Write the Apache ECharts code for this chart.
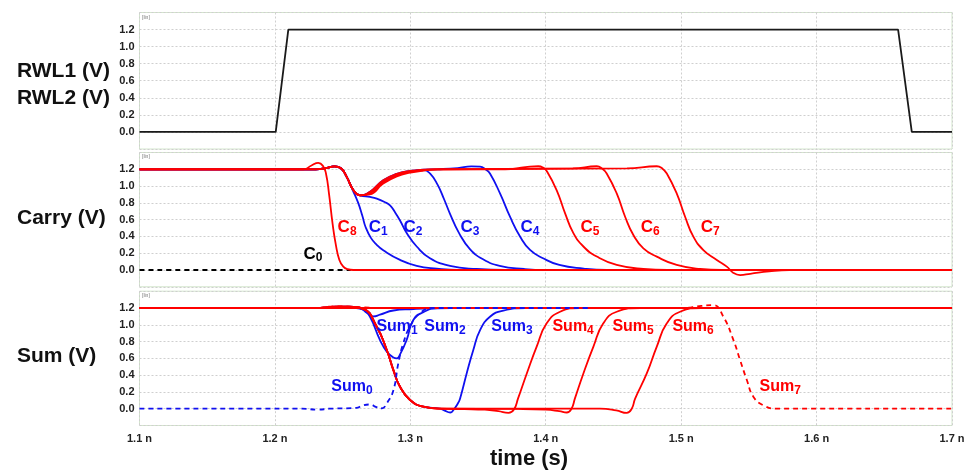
<!DOCTYPE html>
<html><head><meta charset="utf-8">
<script src="https://cdn.jsdelivr.net/npm/echarts@6/dist/echarts.min.js"></script>
<style>html,body{margin:0;padding:0;background:#fff}#c{width:972px;height:473px}</style>
</head><body><div id="c"></div>
<script>
// ---------- DATA (time in ns, value in V) ----------
const timeTicks = [1.1, 1.2, 1.3, 1.4, 1.5, 1.6, 1.7];
const voltTicks = [0.0, 0.2, 0.4, 0.6, 0.8, 1.0, 1.2];

const rwl = [[1.10,0],[1.2006,0],[1.2099,1.2],[1.6602,1.2],[1.6703,0],[1.70,0]];

// Carry panel
const carryHead = [[1.10,1.20],[1.23,1.20],[1.238,1.215],[1.244,1.235],[1.2485,1.215],[1.253,1.11]];
const carryDip = [[1.258,0.95],[1.263,0.89]];
const recoveryA = [[1.27,0.915],[1.28,1.05],[1.29,1.13],[1.30,1.17],[1.31,1.19]];
const recoveryB = [[1.27,0.93],[1.28,1.07],[1.29,1.145],[1.30,1.18],[1.31,1.195]];
const recoveryC = [[1.27,0.90],[1.28,1.03],[1.29,1.115],[1.30,1.16],[1.31,1.185]];
const c0 = [[1.10,0],[1.256,0]];
const c1Tail = [[1.2575,0.95],[1.2615,0.80],[1.2645,0.65],[1.267,0.51],[1.271,0.38],[1.2752,0.30],[1.28,0.235],[1.2924,0.12],[1.3047,0.05],[1.3195,0.016],[1.335,0],[1.70,0]];
const c2Tail = [[1.2702,0.87],[1.2752,0.85],[1.281,0.81],[1.285,0.77],[1.289,0.68],[1.2924,0.59],[1.2973,0.44],[1.3047,0.28],[1.3145,0.14],[1.3293,0.05],[1.349,0.012],[1.37,0],[1.70,0]];
const c3Tail = [[1.3145,1.15],[1.32,1.02],[1.325,0.84],[1.3293,0.67],[1.336,0.44],[1.344,0.25],[1.354,0.125],[1.366,0.05],[1.384,0.012],[1.40,0],[1.70,0]];
const c4Tail = [[1.32,1.20],[1.335,1.215],[1.345,1.235],[1.3515,1.232],[1.3555,1.20],[1.3588,1.15],[1.3663,0.91],[1.3736,0.635],[1.381,0.40],[1.3884,0.24],[1.398,0.14],[1.41,0.06],[1.428,0.016],[1.445,0],[1.70,0]];
const c5Tail = [[1.32,1.20],[1.37,1.20],[1.385,1.225],[1.3945,1.236],[1.398,1.22],[1.4007,1.18],[1.4081,0.95],[1.4143,0.675],[1.4204,0.44],[1.4278,0.28],[1.4377,0.16],[1.4524,0.06],[1.4721,0.012],[1.49,0],[1.70,0]];
const c6Tail = [[1.32,1.20],[1.42,1.21],[1.4377,1.236],[1.4415,1.21],[1.445,1.15],[1.4524,0.913],[1.4586,0.635],[1.4647,0.417],[1.4721,0.258],[1.482,0.159],[1.4967,0.06],[1.514,0.012],[1.53,0],[1.70,0]];
const c7Tail = [[1.32,1.20],[1.46,1.21],[1.482,1.236],[1.486,1.21],[1.4894,1.15],[1.4967,0.913],[1.5029,0.635],[1.509,0.397],[1.5164,0.238],[1.5263,0.119],[1.5337,0.04],[1.5386,-0.035],[1.5435,-0.06],[1.551,-0.045],[1.565,-0.015],[1.58,0],[1.70,0]];
const c8 = [[1.10,1.20],[1.221,1.20],[1.227,1.245],[1.232,1.277],[1.2355,1.24],[1.2377,1.15],[1.240,0.90],[1.2426,0.55],[1.245,0.30],[1.2476,0.12],[1.2505,0.04],[1.2536,0.01],[1.258,0],[1.70,0]];

// Sum panel
const sumHigh = [[1.10,1.20],[1.70,1.20]];
const sumFall = [[1.10,1.20],[1.23,1.20],[1.245,1.215],[1.255,1.215],[1.2653,1.19],[1.2752,0.977],[1.2826,0.70],[1.2875,0.46],[1.2924,0.262],[1.2998,0.104],[1.3096,0.024],[1.3219,0.0]];
const sum0 = [[1.10,0],[1.22,0],[1.232,-0.012],[1.24,0],[1.26,0.01],[1.265,0.04],[1.27,0.05],[1.275,0.02],[1.279,0.005],[1.2826,0.064],[1.2875,0.22],[1.2911,0.54],[1.2948,0.78],[1.2998,0.98],[1.3072,1.14],[1.317,1.20],[1.433,1.20]];
const sum1 = [[1.10,1.20],[1.26,1.20],[1.2653,1.18],[1.2702,1.095],[1.2776,0.818],[1.2826,0.68],[1.2875,0.61],[1.29,0.60],[1.2925,0.65],[1.2973,0.82],[1.3022,1.056],[1.3096,1.15],[1.32,1.20],[1.70,1.20]];
const sum2 = [[1.10,1.20],[1.262,1.20],[1.268,1.14],[1.2727,1.10],[1.2776,1.12],[1.2875,1.17],[1.30,1.185],[1.33,1.20],[1.70,1.20]];
const sum3Tail = [[1.325,-0.02],[1.3295,-0.045],[1.332,-0.01],[1.335,0.06],[1.3367,0.12],[1.3416,0.42],[1.3465,0.70],[1.3515,0.937],[1.3588,1.095],[1.3687,1.17],[1.385,1.20],[1.70,1.20]];
const sum4Tail = [[1.34,-0.005],[1.355,-0.012],[1.365,-0.03],[1.3725,-0.05],[1.3765,-0.01],[1.3795,0.12],[1.386,0.42],[1.3933,0.74],[1.4007,1.017],[1.4106,1.155],[1.425,1.20],[1.70,1.20]];
const sum5Tail = [[1.38,-0.003],[1.40,-0.012],[1.41,-0.03],[1.4155,-0.045],[1.419,0.0],[1.4215,0.12],[1.4278,0.42],[1.4352,0.74],[1.4425,1.017],[1.4524,1.155],[1.47,1.20],[1.70,1.20]];
const sum6Tail = [[1.44,0],[1.452,-0.02],[1.4598,-0.05],[1.4635,0.0],[1.466,0.12],[1.4746,0.42],[1.482,0.74],[1.4894,1.017],[1.4992,1.155],[1.515,1.20],[1.70,1.20]];
const sum7 = [[1.10,1.20],[1.23,1.20],[1.245,1.22],[1.26,1.21],[1.28,1.20],[1.50,1.20],[1.515,1.225],[1.5238,1.235],[1.5312,1.095],[1.5386,0.818],[1.5435,0.58],[1.5485,0.342],[1.5533,0.143],[1.5607,0.04],[1.5706,0],[1.70,0]];

// Annotations: [main, subscript, time, volt]
const carryLabels = [['C','0',1.2281,0.19],['C','1',1.2762,0.51],['C','2',1.3020,0.51],['C','3',1.3441,0.51],['C','4',1.3884,0.51],['C','5',1.4327,0.51],['C','6',1.4771,0.51],['C','7',1.5214,0.51],['C','8',1.2533,0.51]];
const sumLabels = [['Sum','0',1.2569,0.258],['Sum','1',1.2902,0.973],['Sum','2',1.3256,0.973],['Sum','3',1.3751,0.973],['Sum','4',1.4202,0.973],['Sum','5',1.4645,0.973],['Sum','6',1.5088,0.973],['Sum','7',1.5731,0.258]];

// ---------- STYLE ----------
const RED = '#ff0000', BLUE = '#1010f0', BLACK = '#000';
const FONT = 'Arial, "Liberation Sans", sans-serif';
function labelColor(main, sub) {
  const n = +sub;
  if (main === 'C') return n === 0 ? BLACK : (n <= 4 ? BLUE : RED);
  return n <= 3 ? BLUE : RED;
}
function line(data, g, color, dashed, z, smooth) {
  return {type:'line', xAxisIndex:g, yAxisIndex:g, data:data, symbol:'none', showSymbol:false,
    smooth: smooth === undefined ? 0.5 : smooth, silent:true, animation:false, z:z,
    lineStyle:{color:color, width:1.8, type: dashed ? [5,4] : 'solid'}};
}
function labelSeries(list, g, mainSize) {
  return {type:'scatter', xAxisIndex:g, yAxisIndex:g, symbolSize:0, z:30, silent:true, animation:false,
    itemStyle:{opacity:1}, emphasis:{disabled:true},
    data: list.map(l => {
      const c = labelColor(l[0], l[1]);
      return {value:[l[2], l[3]], label:{show:true, position:'inside', opacity:1,
        color:c, textBorderWidth:0, textShadowBlur:0,
        formatter:'{m|' + l[0] + '}{s|' + l[1] + '}',
        rich:{
          m:{fontSize:mainSize, fontWeight:'bold', color:c, fontFamily:FONT, lineHeight:20, textBorderWidth:0},
          s:{fontSize:12, fontWeight:'bold', color:c, fontFamily:FONT, lineHeight:6, verticalAlign:'bottom', textBorderWidth:0}
        }}};
    })};
}

const grids = [
  {left:139.5, right:20, top:12.5, height:136.5},
  {left:139.5, right:20, top:152.5, height:134.3},
  {left:139.5, right:20, top:291.2, height:134.3}
];
const xAxes = grids.map((g, i) => ({
  type:'value', gridIndex:i, min:timeTicks[0], max:timeTicks[timeTicks.length-1], interval:0.1,
  axisLine:{show:false}, axisTick:{show:false},
  splitLine:{show:true, lineStyle:{color:'#cfcfcf', type:[2,2], width:1}},
  axisLabel:{show: i === 2, margin:8, fontSize:11, fontWeight:'bold', color:'#222', fontFamily:FONT,
    formatter: v => v.toFixed(1) + ' n'}
}));
const yAxes = grids.map((g, i) => ({
  type:'value', gridIndex:i, min:-0.2, max:1.4, interval:0.2,
  axisLine:{show:false}, axisTick:{show:false},
  splitLine:{show:true, lineStyle:{color:'#cfcfcf', type:[2,2], width:1}},
  axisLabel:{margin:5, fontSize:11, fontWeight:'bold', color:'#222', fontFamily:FONT,
    formatter: v => (v < -0.01 || v > 1.21) ? '' : v.toFixed(1)}
}));

const series = [
  line(rwl, 0, '#1a1a1a', false, 5, false),
  // carry
  line(c0, 1, BLACK, true, 4),
  line(carryHead.concat(c1Tail), 1, BLUE, false, 3),
  line(carryHead.concat(carryDip, c2Tail), 1, BLUE, false, 3),
  line(carryHead.concat(carryDip, recoveryA, c3Tail), 1, BLUE, false, 3),
  line(carryHead.concat(carryDip, recoveryB, c4Tail), 1, BLUE, false, 3),
  line(carryHead.concat(carryDip, recoveryA, c5Tail), 1, RED, false, 5),
  line(carryHead.concat(carryDip, recoveryB, c6Tail), 1, RED, false, 5),
  line(carryHead.concat(carryDip, recoveryC, c7Tail), 1, RED, false, 5),
  line(c8, 1, RED, false, 6),
  // sum
  line(sum1, 2, BLUE, false, 3),
  line(sum2, 2, BLUE, false, 3),
  line(sumFall.concat(sum3Tail), 2, BLUE, false, 3),
  line(sumHigh, 2, RED, false, 4, false),
  line(sum7, 2, RED, true, 4),
  line(sumFall.concat(sum4Tail), 2, RED, false, 5),
  line(sumFall.concat(sum5Tail), 2, RED, false, 5),
  line(sumFall.concat(sum6Tail), 2, RED, false, 5),
  line(sum0, 2, BLUE, true, 7),
  labelSeries(carryLabels, 1, 17),
  labelSeries(sumLabels, 2, 16)
];

const sideText = (t, y) => ({type:'text', x:17, y:y, silent:true,
  style:{text:t, font:'bold 21px ' + FONT, fill:'#111', align:'left', verticalAlign:'middle'}});
const linText = (y) => ({type:'text', x:142, y:y, silent:true,
  style:{text:'[lin]', font:'5px ' + FONT, fill:'#777', align:'left', verticalAlign:'top'}});

const chart = echarts.init(document.getElementById('c'), null, {renderer:'canvas'});
chart.setOption({
  animation:false,
  backgroundColor:'#ffffff',
  grid: grids.map(g => Object.assign({show:true, borderColor:'#d3e6cc', borderWidth:1, backgroundColor:'transparent'}, g)),
  xAxis: xAxes,
  yAxis: yAxes,
  series: series,
  graphic: [
    sideText('RWL1 (V)', 71),
    sideText('RWL2 (V)', 98),
    sideText('Carry (V)', 218),
    sideText('Sum (V)', 356),
    linText(15), linText(154), linText(293),
    {type:'text', x:529, y:459, silent:true,
      style:{text:'time (s)', font:'bold 22px ' + FONT, fill:'#111', align:'center', verticalAlign:'middle'}}
  ]
});
</script></body></html>
